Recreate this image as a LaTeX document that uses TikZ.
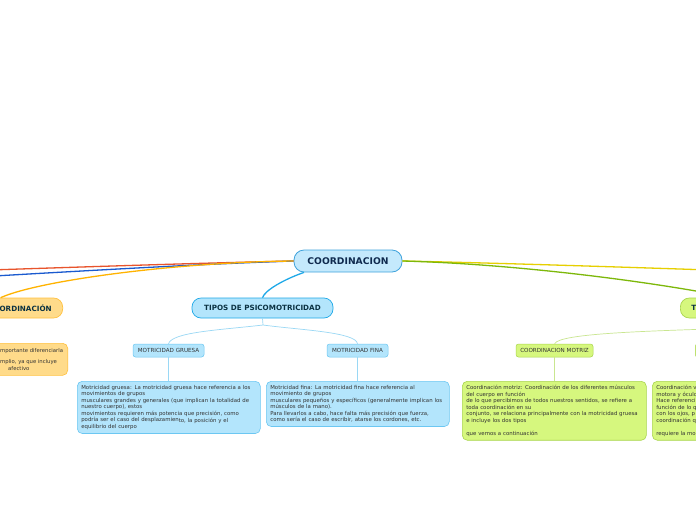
\documentclass[tikz,border=0pt]{standalone}
\usepackage{fontspec}
\setmainfont{DejaVu Sans}
\definecolor{cfill}{HTML}{C4E9FC}
\definecolor{cdraw}{HTML}{3FA3DC}
\definecolor{bfill}{HTML}{B3E5FC}
\definecolor{bdraw}{HTML}{6CC7F2}
\definecolor{gfill}{HTML}{D6F77E}
\definecolor{gdraw}{HTML}{A9D54E}
\definecolor{ofill}{HTML}{FFDB8A}
\definecolor{odraw}{HTML}{FFC13F}
\definecolor{lred}{HTML}{E8542C}
\definecolor{lblue}{HTML}{1A5ACF}
\definecolor{lorange}{HTML}{FFB300}
\definecolor{lyellow}{HTML}{E6CF00}
\definecolor{lgreen}{HTML}{7DB80A}
\definecolor{lsky}{HTML}{1FA9E8}
\definecolor{lsoft}{HTML}{9AD8F5}
\definecolor{lsoftg}{HTML}{C9E690}
\definecolor{navy}{HTML}{0F2A4E}
\definecolor{teal}{HTML}{0B3242}
\definecolor{tcol}{HTML}{333333}
\begin{document}
\begin{tikzpicture}[x=1pt,y=-1pt,
  mainnode/.style={rounded corners=10pt, fill=cfill, draw=cdraw, line width=0.8pt,
    font=\bfseries\fontsize{9.2}{10}\selectfont, text=navy, minimum width=108, minimum height=22, inner sep=0pt},
  topic/.style={rounded corners=9pt, line width=0.7pt, font=\bfseries\fontsize{7.2}{8}\selectfont,
    text=teal, minimum height=20, inner sep=0pt},
  sub/.style={rounded corners=2.5pt, line width=0.5pt, font=\fontsize{5.6}{6.5}\selectfont,
    text=tcol, minimum height=13, inner sep=0pt},
  tbox/.style={rounded corners=5pt, line width=0.6pt, anchor=north west, align=left,
    inner xsep=4pt, inner ysep=4pt, font=\fontsize{5.4}{6.5}\selectfont, text=tcol},
  link/.style={line width=1.3pt},
  thin/.style={line width=0.7pt}]
\useasboundingbox[fill=white] (0,0) rectangle (696,520);

% main node
\node[mainnode] (root) at (348,261) {COORDINACION};

% topics
\node[topic, fill=bfill, draw=lsky, minimum width=141] (psico) at (262.5,308) {TIPOS DE PSICOMOTRICIDAD};
\node[topic, fill=ofill, draw=odraw, anchor=east, text width=102pt, align=right, inner xsep=11pt] (coord) at (63,308) {ORDINACIÓN};
\node[topic, fill=gfill, draw=gdraw, anchor=west, text width=80pt, align=left, inner xsep=11pt] (tright) at (680,308) {T};

% off-canvas ends
\coordinate (redend) at (-40,271);
\coordinate (blueend) at (-40,278);
\coordinate (yelend) at (740,271);

% main links
\draw[link, lred] (root.west) .. controls (200,263) and (80,267) .. (redend);
\draw[link, lblue] (root.west) .. controls (200,264) and (80,271) .. (blueend);
\draw[link, lorange] (root.west) .. controls (180,262) and (40,280) .. (coord.north);
\draw[link, lyellow] (root.east) .. controls (500,263) and (650,268) .. (yelend);
\draw[link, lgreen] (root.east) .. controls (520,264) and (660,283) .. (tright.north);
\draw[link, lsky] ([xshift=-44pt]root.south) .. controls (285,279) and (265,290) .. (psico.north);

% sub nodes
\node[sub, fill=bfill, draw=bdraw, minimum width=71] (gruesa) at (168.5,350.5) {MOTRICIDAD GRUESA};
\node[sub, fill=bfill, draw=bdraw, minimum width=61] (fina) at (357.5,350.5) {MOTRICIDAD FINA};
\node[sub, fill=gfill, draw=gdraw, minimum width=77] (motriz) at (554.5,350.5) {COORDINACION MOTRIZ};
\node[sub, fill=gfill, draw=gdraw, minimum width=60, anchor=west] (visomotor) at (695,350.5) {};

\coordinate (psplit) at (263,325);
\draw[thin, lsoft] (psico.south) -- (psplit);
\draw[thin, lsoft] (psplit) .. controls (220,330) and (172,332) .. (gruesa.north);
\draw[thin, lsoft] (psplit) .. controls (300,330) and (356,332) .. (fina.north);
\coordinate (tsplit) at (740,328);
\draw[thin, lsoftg] (tright.south) -- (tsplit);
\draw[thin, lsoftg] (tsplit) .. controls (650,331) and (560,333) .. (motriz.north);

% text boxes
\node[tbox, fill=bfill, draw=bdraw, text width=175pt, minimum height=51pt] (gbox) at (77,381) {%
Motricidad gruesa: La motricidad gruesa hace referencia a los\\
movimientos de grupos\\
musculares grandes y generales (que implican la totalidad de\\
nuestro cuerpo), estos\\
movimientos requieren más potencia que precisión, como\\
podría ser el caso del desplazamien\raisebox{-0.8pt}{to, la posición y el}\\
equilibrio del cuerpo};
\node[tbox, fill=bfill, draw=bdraw, text width=175pt, minimum height=45pt] (fbox) at (266,381) {%
Motricidad fina: La motricidad fina hace referencia al\\
movimiento de grupos\\
musculares pequeños y específicos (generalmente implican los\\
músculos de la mano).\\
Para llevarlos a cabo, hace falta más precisión que fuerza,\\
como sería el caso de escribir, atarse los cordones, etc.};
\node[tbox, fill=gfill, draw=gdraw, text width=176pt, minimum height=58pt] (mbox) at (462,381) {%
Coordinación motriz: Coordinación de los diferentes músculos\\
del cuerpo en función\\
de lo que percibimos de todos nuestros sentidos, se refiere a\\
toda coordinación en su\\
conjunto, se relaciona principalmente con la motricidad gruesa\\
e incluye los dos tipos\\[6.5pt]
que vemos a continuación};
\node[tbox, fill=gfill, draw=gdraw, text width=70pt, minimum height=58pt] (vbox) at (652,381) {%
Coordinación v\\
motora y óculo\\
Hace referenci\\
función de lo q\\
con los ojos, p\\
coordinación q\\[6.5pt]
requiere la mo};
\node[tbox, fill=ofill, draw=odraw, text width=150pt, minimum height=32pt, anchor=north east, inner xsep=0pt] (obox) at (68,343) {};
\node[anchor=west, inner sep=0pt, font=\fontsize{5.3}{6}\selectfont, text=tcol] (o1) at (0,351) {mportante diferenciarla};
\node[anchor=west, inner sep=0pt, font=\fontsize{5.3}{6}\selectfont, text=tcol] (o2) at (0,362.5) {mplio, ya que incluye};
\node[anchor=west, inner sep=0pt, font=\fontsize{5.3}{6}\selectfont, text=tcol] (o3) at (8,369) {afectivo};

\draw[thin, lsoft] (gruesa.south) -- (gruesa.south |- gbox.north);
\draw[thin, lsoft] (fina.south) -- (fina.south |- fbox.north);
\draw[thin, lsoftg] (motriz.south) -- (motriz.south |- mbox.north);
\end{tikzpicture}
\end{document}
